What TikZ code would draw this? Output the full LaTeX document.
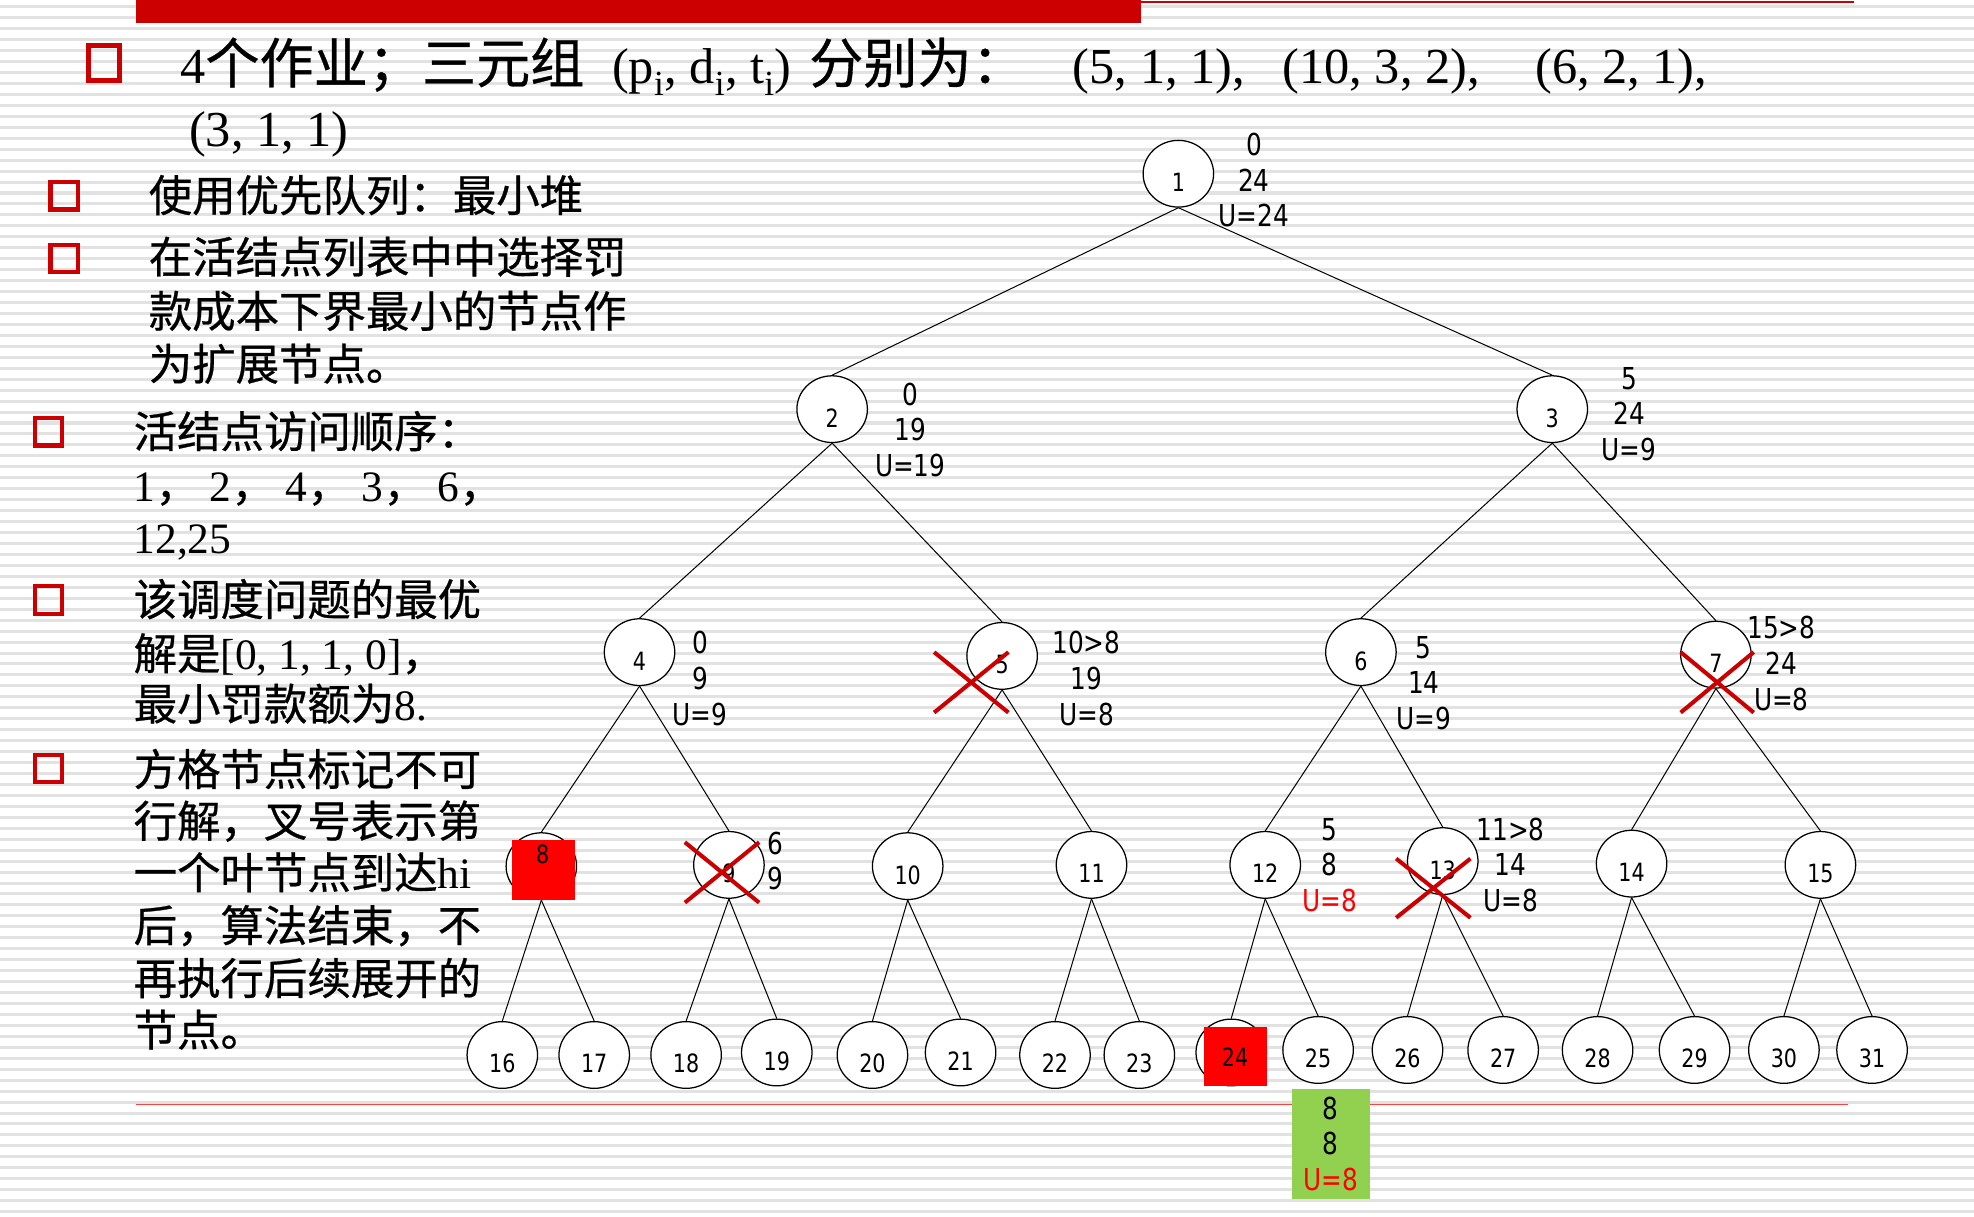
\documentclass[tikz,border=0pt]{standalone}
\usepackage{fontspec}
\usepackage{xcolor}
\usepackage{tikz}
\usetikzlibrary{shapes.geometric}
\setmainfont{Liberation Serif}
\newfontfamily\cjk[FakeBold=0.6]{Noto Sans CJK SC}
\newfontfamily\lblfont[FakeStretch=0.82]{DejaVu Sans}
\definecolor{bbred}{RGB}{204,0,0}
\definecolor{boxred}{RGB}{255,0,0}
\definecolor{bbgreen}{RGB}{146,208,80}
\definecolor{stripegray}{RGB}{226,226,226}
\newcommand\ttllat{\fontsize{40}{50}\selectfont}
\newcommand\ttlcjk{\cjk\fontsize{43}{50}\selectfont}
\newcommand\lefttxt{\fontsize{34.5}{41.8}\selectfont}
\newcommand\numtxt{\lblfont\fontsize{20}{24}\selectfont}
\newcommand\infotxt{\lblfont\fontsize{24}{28.3}\selectfont}
\tikzset{
  st/.style={ellipse, draw, fill=white, line width=1, minimum width=56,
    minimum height=53, inner sep=0, font=\numtxt, text height=28.6pt, text depth=0pt},
  edge/.style={line width=0.8},
  info/.style={align=center, inner sep=0, font=\infotxt},
  cross/.style={draw=bbred, line width=3.2},
  badbox/.style={fill=boxred, minimum width=50, minimum height=47, inner sep=0, font=\numtxt},
  sqlbl/.style={inner sep=0, font=\numtxt},
  bullet/.style={draw=bbred, line width=3.3, minimum size=21.7, inner sep=0},
  txt/.style={anchor=base west, inner sep=0, font=\lefttxt},
  ttl/.style={anchor=base west, inner sep=0, font=\ttllat}
}

\begin{document}
\begin{tikzpicture}[x=1pt,y=-1pt]
  \useasboundingbox (0,0) rectangle (1568,966);
  % background stripes
  \fill[white] (0,0) rectangle (1568,966);
  \foreach \k in {0,...,110}
    \fill[stripegray] (0,{5.4+8.7*\k-1.2}) rectangle (1568,{5.4+8.7*\k+1.2});
  \fill[bbred] (108,0) rectangle (906,18);
  \draw[bbred, line width=2] (906,1.5) -- (1473,1.5);

  % title
  \node[bullet, line width=4, minimum width=25, minimum height=27.5] (b0) at (82.5,50) {};
  \node[ttl] (ttlA) at (143,66) {4{\ttlcjk 个作业；三元组}\hspace{22pt}(p\textsubscript{i}, d\textsubscript{i}, t\textsubscript{i})\hspace{14pt}{\ttlcjk 分别为：}};
  \node[ttl] (ttlB) at (852,66) {(5, 1, 1),\hspace{30pt}(10, 3, 2),\hspace{44pt}(6, 2, 1),};
  \node[ttl] (ttlC) at (150,116) {(3, 1, 1)};

  % left column
  \node[bullet] (b1) at (51,155.5) {};
  \node[txt] (t11) at (118,168) {{\cjk 使用优先队列：最小堆}};
  \node[bullet] (b2) at (51,205.3) {};
  \node[txt] (t21) at (118,217) {{\cjk 在活结点列表中中选择罚}};
  \node[txt] (t22) at (118,260) {{\cjk 款成本下界最小的节点作}};
  \node[txt] (t23) at (118,302) {{\cjk 为扩展节点。}};
  \node[bullet] (b3) at (38.5,343) {};
  \node[txt] (t31) at (106,355.6) {{\cjk 活结点访问顺序：}};
  \node[txt] (t32) at (106,398) {1{\cjk ，} 2{\cjk ，} 4{\cjk ，} 3{\cjk ，} 6{\cjk ，}};
  \node[txt] (t33) at (106,440) {12,25};
  \node[bullet] (b4) at (38.5,476.6) {};
  \node[txt] (t41) at (106,489) {{\cjk 该调度问题的最优}};
  \node[txt] (t42) at (106,532) {{\cjk 解是}[0, 1, 1, 0]{\cjk ，}};
  \node[txt] (t43) at (106,572) {{\cjk 最小罚款额为}8.};
  \node[bullet] (b5) at (38.5,610.3) {};
  \node[txt] (t51) at (106,624) {{\cjk 方格节点标记不可}};
  \node[txt] (t52) at (106,665) {{\cjk 行解，叉号表示第}};
  \node[txt] (t53) at (106,706) {{\cjk 一个叶节点到达}hi};
  \node[txt] (t54) at (106,748) {{\cjk 后，算法结束，不}};
  \node[txt] (t55) at (106,790) {{\cjk 再执行后续展开的}};
  \node[txt] (t56) at (106,831) {{\cjk 节点。}};

  \draw[red!75, line width=0.8] (108,877) -- (1468,877);

  % tree
  \node[st] (n1) at (936,138) {1};
  \node[st] (n2) at (661,325) {2};
  \node[st] (n3) at (1233,325) {3};
  \node[st] (n4) at (508,518) {4};
  \node[st] (n5) at (796,521) {5};
  \node[st] (n6) at (1081,518) {6};
  \node[st] (n7) at (1363,520) {7};
  \node[st] (n8) at (430,688) {};
  \node[st] (n9) at (579,687) {9};
  \node[st] (n10) at (721,688) {10};
  \node[st] (n11) at (867,687) {11};
  \node[st] (n12) at (1005,687) {12};
  \node[st] (n13) at (1146,684) {13};
  \node[st] (n14) at (1296,686) {14};
  \node[st] (n15) at (1446,687) {15};
  \foreach \k/\x/\y in {16/399/838, 17/472/838, 18/545/838, 19/617/836,
      20/693/838, 21/763/836, 22/838/838, 23/905/838, 25/1047/834,
      26/1118/834, 27/1194/834, 28/1269/834, 29/1346/834, 30/1417/834, 31/1487/834}
    \node[st] (n\k) at (\x,\y) {\k};
  \node[st] (n24) at (978,836) {};
  \foreach \c in {2,...,31} {
    \pgfmathtruncatemacro\p{\c/2}
    \draw[edge] (n\p.south) -- (n\c.north);
  }

  % bounds beside the nodes
  \node[info] (i1) at (996,143) {0\\24\\U=24};
  \node[info] (i2) at (723,341.5) {0\\19\\U=19};
  \node[info] (i3) at (1294,329) {5\\24\\U=9};
  \node[info] (i4) at (556,539) {0\\9\\U=9};
  \node[info] (i5) at (863,539) {10>8\\19\\U=8};
  \node[info] (i6) at (1131,542.5) {5\\14\\U=9};
  \node[info] (i7) at (1415,527) {15>8\\24\\U=8};
  \node[info] (i9) at (616,684) {6\\9};
  \node[info] (i12) at (1056,687) {5\\8\\\textcolor{red}{U=8}};
  \node[info] (i13) at (1200,687) {11>8\\14\\U=8};
  \node[info, fill=bbgreen, minimum width=62, minimum height=87] (i25) at (1057,908.5) {8\\8\\\textcolor{red}{U=8}};

  % infeasible and pruned
  \node[badbox] (q8) at (431.5,691) {};
  \node[sqlbl] (q8t) at (431,679) {8};
  \node[badbox] (q24) at (981,839.5) {24};
  \draw[cross] (742,518) -- (801,566) (742,566) -- (801,518);
  \draw[cross] (1335,518) -- (1393,566) (1335,566) -- (1393,518);
  \draw[cross] (544,669) -- (603,717) (544,717) -- (603,669);
  \draw[cross] (1109,682) -- (1168,729) (1109,729) -- (1168,682);
\end{tikzpicture}
\end{document}
